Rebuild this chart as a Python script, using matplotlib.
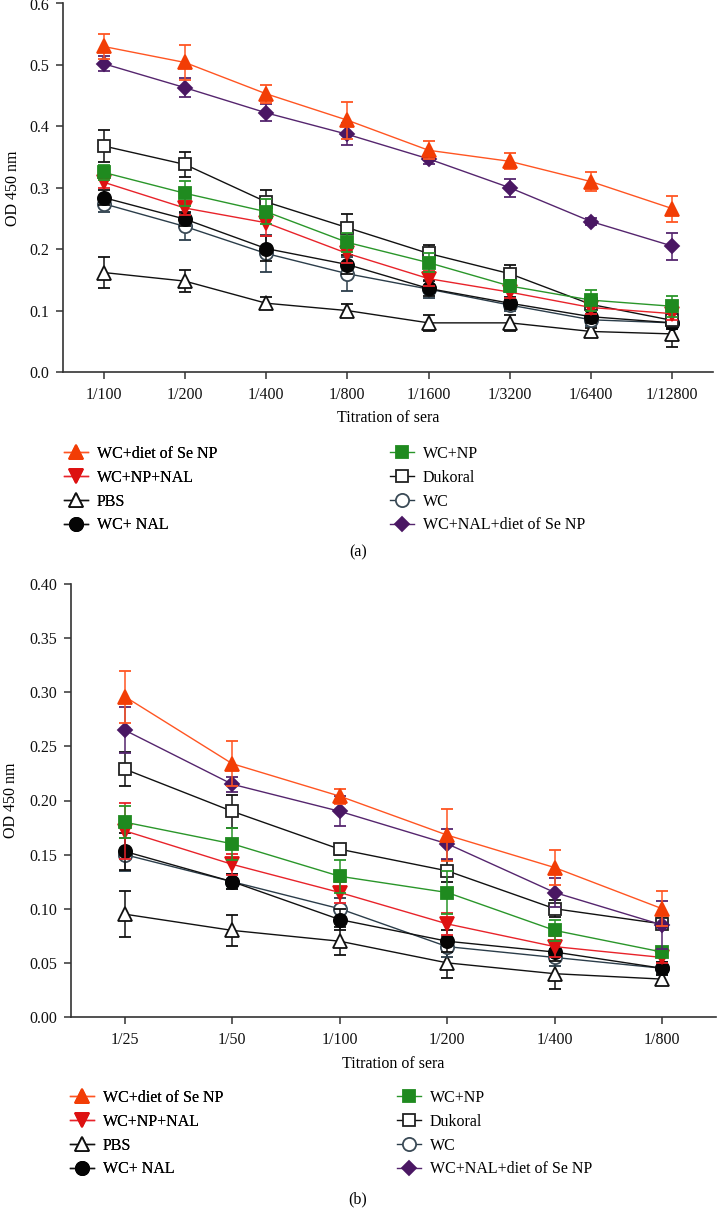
import matplotlib
matplotlib.use("Agg")
import matplotlib.pyplot as plt
from matplotlib.lines import Line2D

plt.rcParams["font.family"] = ["Liberation Serif", "DejaVu Serif"]
plt.rcParams["font.size"] = 11.5

# ── data ──────────────────────────────────────────────────────────────────────
dilutions_a = ["1/100", "1/200", "1/400", "1/800", "1/1600", "1/3200", "1/6400", "1/12800"]
dilutions_b = ["1/25", "1/50", "1/100", "1/200", "1/400", "1/800"]

groups = ["WC+diet of Se NP", "WC+NP+NAL", "PBS", "WC+ NAL",
          "WC+NP", "Dukoral", "WC", "WC+NAL+diet of Se NP"]

# panel (a)
se_np_a      = [0.530, 0.504, 0.453, 0.410, 0.361, 0.343, 0.310, 0.266]
se_np_err_a  = [0.020, 0.028, 0.015, 0.030, 0.015, 0.013, 0.016, 0.021]
np_nal_a     = [0.309, 0.267, 0.243, 0.193, 0.152, 0.130, 0.105, 0.095]
np_nal_err_a = [0.010, 0.012, 0.022, 0.015, 0.012, 0.010, 0.010, 0.010]
pbs_a        = [0.162, 0.148, 0.112, 0.100, 0.080, 0.080, 0.066, 0.062]
pbs_err_a    = [0.025, 0.018, 0.010, 0.010, 0.013, 0.013, 0.005, 0.022]
nal_a        = [0.284, 0.249, 0.201, 0.175, 0.136, 0.112, 0.090, 0.080]
nal_err_a    = [0.012, 0.012, 0.020, 0.015, 0.012, 0.010, 0.010, 0.010]
np_a         = [0.325, 0.291, 0.261, 0.211, 0.178, 0.140, 0.117, 0.107]
np_err_a     = [0.012, 0.020, 0.020, 0.015, 0.015, 0.010, 0.017, 0.017]
dukoral_a    = [0.368, 0.338, 0.277, 0.235, 0.193, 0.160, 0.110, 0.084]
dukoral_err_a = [0.026, 0.020, 0.019, 0.022, 0.013, 0.015, 0.010, 0.010]
wc_a         = [0.274, 0.237, 0.193, 0.160, 0.135, 0.109, 0.085, 0.080]
wc_err_a     = [0.013, 0.022, 0.030, 0.028, 0.015, 0.010, 0.010, 0.010]
nal_se_a     = [0.502, 0.463, 0.422, 0.387, 0.347, 0.300, 0.245, 0.205]
nal_se_err_a = [0.012, 0.015, 0.014, 0.018, 0.008, 0.015, 0.006, 0.022]

# panel (b)
se_np_b      = [0.296, 0.234, 0.204, 0.168, 0.138, 0.100]
se_np_err_b  = [0.024, 0.021, 0.007, 0.024, 0.016, 0.016]
np_nal_b     = [0.172, 0.141, 0.115, 0.086, 0.065, 0.055]
np_nal_err_b = [0.026, 0.010, 0.010, 0.010, 0.010, 0.005]
pbs_b        = [0.095, 0.080, 0.070, 0.050, 0.040, 0.035]
pbs_err_b    = [0.021, 0.014, 0.013, 0.014, 0.014, 0.005]
nal_b        = [0.153, 0.125, 0.090, 0.070, 0.060, 0.045]
nal_err_b    = [0.017, 0.007, 0.010, 0.010, 0.008, 0.006]
np_b         = [0.180, 0.160, 0.130, 0.115, 0.080, 0.060]
np_err_b     = [0.015, 0.015, 0.015, 0.020, 0.010, 0.005]
dukoral_b    = [0.229, 0.190, 0.155, 0.135, 0.100, 0.086]
dukoral_err_b = [0.016, 0.015, 0.005, 0.010, 0.008, 0.005]
wc_b         = [0.150, 0.125, 0.100, 0.065, 0.055, 0.045]
wc_err_b     = [0.015, 0.007, 0.010, 0.010, 0.008, 0.006]
nal_se_b     = [0.265, 0.215, 0.190, 0.160, 0.115, 0.085]
nal_se_err_b = [0.021, 0.007, 0.014, 0.014, 0.013, 0.022]

values_a = [se_np_a, np_nal_a, pbs_a, nal_a, np_a, dukoral_a, wc_a, nal_se_a]
errors_a = [se_np_err_a, np_nal_err_a, pbs_err_a, nal_err_a,
            np_err_a, dukoral_err_a, wc_err_a, nal_se_err_a]
values_b = [se_np_b, np_nal_b, pbs_b, nal_b, np_b, dukoral_b, wc_b, nal_se_b]
errors_b = [se_np_err_b, np_nal_err_b, pbs_err_b, nal_err_b,
            np_err_b, dukoral_err_b, wc_err_b, nal_se_err_b]

# ── styles (line colour, marker, face, edge) ──────────────────────────────────
STYLES = [
    dict(color="#FF5522", marker="^", mfc="#F23D05", mec="#F23D05"),
    dict(color="#E8232A", marker="v", mfc="#DD1111", mec="#DD1111"),
    dict(color="#111111", marker="^", mfc="white",   mec="#111111"),
    dict(color="#111111", marker="o", mfc="#050505", mec="#050505"),
    dict(color="#2A962A", marker="s", mfc="#1F8A1F", mec="#1F8A1F"),
    dict(color="#111111", marker="s", mfc="white",   mec="#222222"),
    dict(color="#2B3D4A", marker="o", mfc="white",   mec="#3A4A56"),
    dict(color="#55256E", marker="D", mfc="#4A1763", mec="#4A1763"),
]
MS = {"^": 9.5, "v": 9.5, "o": 9.5, "s": 8.5, "D": 7.0}
DRAW_ORDER = [2, 6, 3, 5, 1, 4, 7, 0]
AXIS_COLOR = "#333333"
W, H = 717, 1208


def draw_panel(ax, labels, values, errors, ylim, yticks, fmt):
    x = list(range(len(labels)))
    for i in DRAW_ORDER:
        st = STYLES[i]
        ax.errorbar(x, values[i], yerr=errors[i], color=st["color"],
                    marker=st["marker"], ms=MS[st["marker"]],
                    mfc=st["mfc"], mec=st["mec"], mew=1.3,
                    lw=1.0, elinewidth=1.1, capsize=4.5, capthick=1.1,
                    zorder=3 + DRAW_ORDER.index(i))
    ax.set_xlim(-0.5, len(labels) - 0.5)
    ax.set_ylim(*ylim)
    ax.set_xticks(x)
    ax.set_xticklabels(labels)
    ax.set_yticks(yticks)
    ax.set_yticklabels([fmt.format(v) for v in yticks])
    for side in ("top", "right"):
        ax.spines[side].set_visible(False)
    for side in ("left", "bottom"):
        ax.spines[side].set_color(AXIS_COLOR)
        ax.spines[side].set_linewidth(1.2)
    ax.tick_params(length=5, width=1.1, color=AXIS_COLOR, labelcolor="#111111")
    ax.tick_params(axis="x", pad=6)
    ax.tick_params(axis="y", pad=5)


def add_legends(fig, top_px, left_px, right_px):
    handles = []
    for st in STYLES:
        handles.append(Line2D([], [], color=st["color"], marker=st["marker"],
                              ms=MS[st["marker"]], mfc=st["mfc"], mec=st["mec"],
                              mew=1.3, lw=1.0))
    kw = dict(loc="upper left", frameon=False, borderpad=0, borderaxespad=0,
              handlelength=1.5, handletextpad=0.55, labelspacing=0.49,
              fontsize=11.5)
    leg1 = fig.legend(handles[:4], groups[:4],
                      bbox_to_anchor=(left_px / W, 1 - top_px / H), **kw)
    fig.add_artist(leg1)
    fig.legend(handles[4:], groups[4:],
               bbox_to_anchor=(right_px / W, 1 - top_px / H), **kw)


def px_text(fig, x, y, s, **kw):
    fig.text(x / W, 1 - y / H, s, ha="center", va="center", fontsize=11.5, **kw)


fig = plt.figure(figsize=(W / 100, H / 100), dpi=100)
fig.patch.set_facecolor("white")

# panel (a)
ax_a = fig.add_axes([63 / W, 1 - 372 / H, (713 - 63) / W, (372 - 3.5) / H])
draw_panel(ax_a, dilutions_a, values_a, errors_a, (0, 0.6),
           [0.0, 0.1, 0.2, 0.3, 0.4, 0.5, 0.6], "{:.1f}")
px_text(fig, 388, 418, "Titration of sera")
px_text(fig, 13, 188, "OD 450 nm", rotation=90)
add_legends(fig, 446, 64, 390)
px_text(fig, 358, 552, "(a)")

# panel (b)
ax_b = fig.add_axes([71 / W, 1 - 1017 / H, (716 - 71) / W, (1017 - 584) / H])
draw_panel(ax_b, dilutions_b, values_b, errors_b, (0, 0.40),
           [0.00, 0.05, 0.10, 0.15, 0.20, 0.25, 0.30, 0.35, 0.40], "{:.2f}")
px_text(fig, 393, 1064, "Titration of sera")
px_text(fig, 11, 800, "OD 450 nm", rotation=90)
add_legends(fig, 1090, 70, 397)
px_text(fig, 358, 1199, "(b)")

fig.savefig("out.png", dpi=100, facecolor="white")
plt.close(fig)
